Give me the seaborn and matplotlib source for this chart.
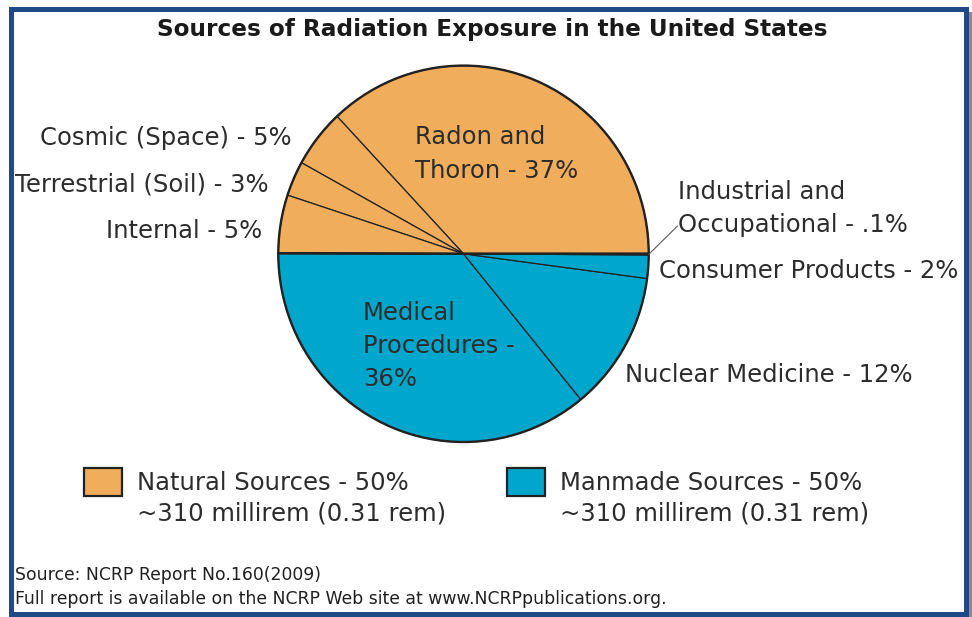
import matplotlib
matplotlib.use("Agg")
import matplotlib.pyplot as plt
import numpy as np
import seaborn as sns
from matplotlib.patches import Patch, Rectangle

# ---- data -------------------------------------------------------------
title = "Sources of Radiation Exposure in the United States"
sources = [
    "Radon and\nThoron - 37%",
    "Cosmic (Space) - 5%",
    "Terrestrial (Soil) - 3%",
    "Internal - 5%",
    "Medical\nProcedures -\n36%",
    "Nuclear Medicine - 12%",
    "Consumer Products - 2%",
    "Industrial and\nOccupational - .1%",
]
shares = [37, 5, 3, 5, 36, 12, 2, 0.1]
source_group = ["Natural", "Natural", "Natural", "Natural",
                "Manmade", "Manmade", "Manmade", "Manmade"]
groups = ["Natural", "Manmade"]
group_labels = ["Natural Sources - 50%", "Manmade Sources - 50%"]
group_dose = ["~310 millirem (0.31 rem)", "~310 millirem (0.31 rem)"]
footnotes = ["Source: NCRP Report No.160(2009)",
             "Full report is available on the NCRP Web site at www.NCRPpublications.org."]

# ---- style ------------------------------------------------------------
sns.set_theme(style="white")
plt.rcParams["font.family"] = ["DejaVu Sans"]
palette = dict(zip(groups, sns.color_palette(["#F0AD5B", "#00A6CC"])))
TEXT = "#2c2c2c"
EDGE = "#222222"

W, H = 972, 617
def fx(x):
    return x / W
def fy(y):
    return 1 - y / H

# label anchors in pixels: (x, first baseline, alignment, line step)
label_pos = [
    (415, 144, "left", 34),
    (292, 145, "right", 0),
    (268.5, 191.7, "right", 0),
    (262, 238.3, "right", 0),
    (363, 320, "left", 33),
    (625, 381.7, "left", 0),
    (659.3, 278.3, "left", 0),
    (678, 199.3, "left", 32.5),
]

fig = plt.figure(figsize=(W / 100, H / 100), dpi=100)
fig.patch.set_facecolor("white")

ax = fig.add_axes([278.3 / W, fy(442), 370.4 / W, 376.4 / H])

wedges, _ = ax.pie(
    shares,
    colors=[palette[g] for g in source_group],
    startangle=0,
    counterclock=True,
    wedgeprops=dict(edgecolor=EDGE, linewidth=0.9),
)

# heavier outline around the natural / manmade halves
group_totals = [sum(s for s, g in zip(shares, source_group) if g == grp) for grp in groups]
outline, _ = ax.pie(
    group_totals,
    colors=["none", "none"],
    startangle=0,
    counterclock=True,
    wedgeprops=dict(edgecolor=EDGE, linewidth=1.7, fill=False),
)
for w in list(wedges) + list(outline):
    w.set_clip_on(False)

ax.set_aspect("auto")
ax.set_xlim(-1, 1)
ax.set_ylim(-1, 1)
ax.axis("off")

# slice labels
for label, (x, y, ha, step) in zip(sources, label_pos):
    for i, line in enumerate(label.split("\n")):
        fig.text(fx(x), fy(y + i * step), line, ha=ha, va="baseline",
                 fontsize=17.5, color=TEXT)

# leader line to the tiny industrial slice
w = wedges[-1]
mid = np.deg2rad((w.theta1 + w.theta2) / 2)
ax.annotate("", xy=(np.cos(mid), np.sin(mid)), xycoords="data",
            xytext=(fx(677.5), fy(226)), textcoords="figure fraction",
            arrowprops=dict(arrowstyle="-", color="#5a5a5a", lw=0.8,
                            shrinkA=0, shrinkB=0),
            annotation_clip=False)

# title
fig.text(fx(492), fy(36), title, ha="center", va="baseline",
         fontsize=16.7, fontweight="bold", color="#1a1a1a")

# legend
fs = 17.5
fs_px = fs * 100 / 72
handles = [Patch(facecolor=palette[g], edgecolor=EDGE, linewidth=1.6) for g in groups]
leg = fig.legend(handles, group_labels, ncol=2, loc="upper left",
                 bbox_to_anchor=(fx(84), fy(468)), frameon=False,
                 fontsize=fs, handlelength=38 / fs_px, handleheight=1.395,
                 handletextpad=15 / fs_px, columnspacing=4.05,
                 borderpad=0, borderaxespad=0, labelcolor=TEXT)

fig.canvas.draw()
for t, dose in zip(leg.get_texts(), group_dose):
    bb = t.get_window_extent()
    fig.text(bb.x0 / W, fy(520), dose, ha="left", va="baseline",
             fontsize=fs, color=TEXT)

# footnotes
for i, note in enumerate(footnotes):
    fig.text(fx(15), fy(580 + i * 24), note, ha="left", va="baseline",
             fontsize=12.4, color="#202020")

# frame
fig.add_artist(Rectangle((fx(968), 0), 4 / W, fy(12), transform=fig.transFigure,
                         facecolor="#8c8c8c", edgecolor="none"))
fig.add_artist(Rectangle((fx(11), fy(614)), (965.5 - 11) / W, (614 - 9) / H,
                         transform=fig.transFigure, fill=False,
                         edgecolor="#1f4a87", linewidth=3.6))

fig.savefig("out.png", dpi=100)
